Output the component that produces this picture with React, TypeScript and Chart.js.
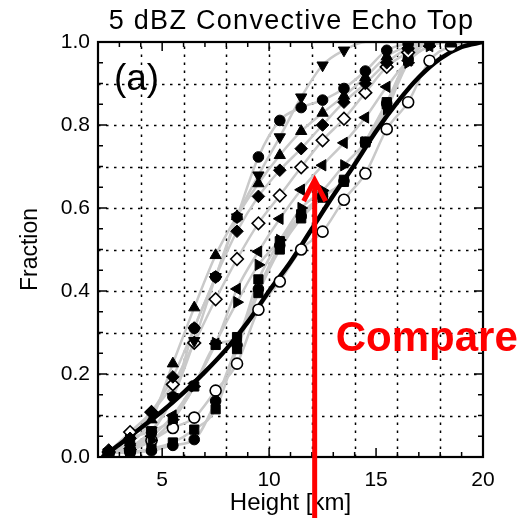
import React, { useEffect, useRef } from 'react';
import { Chart, registerables } from 'chart.js';

Chart.register(...registerables);

// ---------------- data ----------------
const heights = [2.5, 3.5, 4.5, 5.5, 6.5, 7.5, 8.5, 9.5, 10.5, 11.5, 12.5, 13.5, 14.5, 15.5, 16.5, 17.5, 18.5, 19.5];

const downTriFrac = [0.012, 0.025, 0.064, 0.145, 0.28, 0.434, 0.578, 0.679, 0.771, 0.867, 0.944, 0.98, 1, 1, 1, 1, 1, 1];
const circleAFrac = [0.01, 0.02, 0.06, 0.145, 0.31, 0.434, 0.578, 0.723, 0.811, 0.842, 0.86, 0.888, 0.93, 0.98, 0.995, 1, 1, 1];
const upTriFrac = [0.012, 0.035, 0.09, 0.225, 0.36, 0.486, 0.58, 0.659, 0.727, 0.785, 0.829, 0.87, 0.915, 0.965, 0.99, 1, 1, 1];
const diamondFrac = [0.017, 0.045, 0.108, 0.193, 0.311, 0.434, 0.544, 0.628, 0.691, 0.743, 0.8, 0.855, 0.9, 0.95, 0.985, 1, 1, 1];
const openDiamondFrac = [0.012, 0.06, 0.108, 0.175, 0.275, 0.38, 0.477, 0.563, 0.63, 0.698, 0.763, 0.815, 0.878, 0.94, 0.975, 1, 1, 1];
const leftTriFrac = [0.01, 0.02, 0.05, 0.1, 0.177, 0.273, 0.405, 0.495, 0.574, 0.644, 0.703, 0.757, 0.818, 0.892, 0.955, 0.99, 1, 1];
const rightTriFrac = [0.01, 0.018, 0.04, 0.09, 0.17, 0.275, 0.373, 0.463, 0.523, 0.6, 0.642, 0.703, 0.758, 0.838, 0.95, 0.99, 1, 1];
const squareAFrac = [0.01, 0.045, 0.062, 0.092, 0.17, 0.27, 0.289, 0.428, 0.52, 0.585, 0.63, 0.663, 0.758, 0.85, 0.955, 0.997, 0.999, 1];
const squareBFrac = [0.01, 0.012, 0.02, 0.035, 0.066, 0.115, 0.26, 0.395, 0.5, 0.575, 0.625, 0.668, 0.76, 0.855, 0.96, 0.998, 1, 1];
const circleBFrac = [0.01, 0.01, 0.015, 0.028, 0.042, 0.135, 0.27, 0.405, 0.51, 0.58, 0.628, 0.665, 0.758, 0.852, 0.958, 1, 1, 1];
const openCircleFrac = [0.01, 0.015, 0.04, 0.07, 0.095, 0.16, 0.225, 0.355, 0.423, 0.5, 0.543, 0.62, 0.683, 0.79, 0.855, 0.955, 0.99, 1];

const fitHeights = [2.2, 3, 4, 5, 6, 7, 8, 9, 10, 11, 12, 13, 14, 15, 16, 17, 18, 19, 20];
const fitFrac = [0, 0.03, 0.07, 0.11, 0.155, 0.205, 0.26, 0.325, 0.4, 0.47, 0.55, 0.63, 0.705, 0.785, 0.855, 0.915, 0.96, 0.988, 1.0];

const xTickLabels = [5, 10, 15, 20];
const yTickLabels = [0, 0.2, 0.4, 0.6, 0.8, 1.0];
const xGridLines = [4, 6, 8, 10, 12, 14, 16, 18];
const yGridLines = [0.1, 0.2, 0.3, 0.4, 0.5, 0.6, 0.7, 0.8, 0.9];
const xMinorTicks = [2, 3, 4, 5, 6, 7, 8, 9, 10, 11, 12, 13, 14, 15, 16, 17, 18, 19, 20];
const yMinorTicks = [0, 0.05, 0.1, 0.15, 0.2, 0.25, 0.3, 0.35, 0.4, 0.45, 0.5, 0.55, 0.6, 0.65, 0.7, 0.75, 0.8, 0.85, 0.9, 0.95, 1.0];

const titleText = '5 dBZ Convective Echo Top';
const xTitleText = 'Height [km]';
const yTitleText = 'Fraction';
const panelText = '(a)';
const compareText = 'Compare';

// annotation anchors in data units
const panelAnchor = { x: 3.8, y: 0.884 };
const compareAnchor = { x: 17.37, y: 0.255 };
const arrowAnchor = { x: 12.13, y: 0.667 };

const FONT = '"Liberation Sans", Arial, Helvetica, sans-serif';

type Series = { data: number[]; style: string; rotation: number; open: boolean; radius: number };

const series: Series[] = [
  { data: downTriFrac, style: 'triangle', rotation: 180, open: false, radius: 6.5 },
  { data: circleAFrac, style: 'circle', rotation: 0, open: false, radius: 5.3 },
  { data: upTriFrac, style: 'triangle', rotation: 0, open: false, radius: 6.5 },
  { data: diamondFrac, style: 'rectRot', rotation: 0, open: false, radius: 6.3 },
  { data: openDiamondFrac, style: 'rectRot', rotation: 0, open: true, radius: 6.3 },
  { data: leftTriFrac, style: 'triangle', rotation: 270, open: false, radius: 6.5 },
  { data: rightTriFrac, style: 'triangle', rotation: 90, open: false, radius: 6.5 },
  { data: squareAFrac, style: 'rect', rotation: 0, open: false, radius: 6.5 },
  { data: squareBFrac, style: 'rect', rotation: 0, open: false, radius: 6.5 },
  { data: circleBFrac, style: 'circle', rotation: 0, open: false, radius: 5.3 },
  { data: openCircleFrac, style: 'circle', rotation: 0, open: true, radius: 5.5 },
];

const toPoints = (xs: number[], ys: number[]) => xs.map((x, i) => ({ x, y: ys[i] }));

const decorPlugin = {
  id: 'decor',
  beforeDatasetsDraw(chart: any) {
    const { ctx, chartArea: a, scales } = chart;
    const xs = scales.x;
    const ys = scales.y;
    ctx.save();
    ctx.strokeStyle = '#000';
    ctx.lineWidth = 1.5;
    ctx.setLineDash([2.5, 5.5]);
    xGridLines.forEach((v) => {
      const px = Math.round(xs.getPixelForValue(v)) + 0.5;
      ctx.beginPath();
      ctx.moveTo(px, a.bottom);
      ctx.lineTo(px, a.top);
      ctx.stroke();
    });
    yGridLines.forEach((v) => {
      const py = Math.round(ys.getPixelForValue(v)) + 0.5;
      ctx.beginPath();
      ctx.moveTo(a.left, py);
      ctx.lineTo(a.right, py);
      ctx.stroke();
    });
    ctx.restore();
  },
  afterDatasetsDraw(chart: any) {
    const { ctx, chartArea: a, scales } = chart;
    const xs = scales.x;
    const ys = scales.y;
    ctx.save();
    // inside tick marks
    ctx.strokeStyle = '#000';
    ctx.lineWidth = 1.5;
    xMinorTicks.forEach((v) => {
      const len = xTickLabels.includes(v) ? 9 : 5;
      const px = xs.getPixelForValue(v);
      ctx.beginPath();
      ctx.moveTo(px, a.bottom);
      ctx.lineTo(px, a.bottom - len);
      ctx.moveTo(px, a.top);
      ctx.lineTo(px, a.top + len);
      ctx.stroke();
    });
    yMinorTicks.forEach((v) => {
      const major = yTickLabels.some((t) => Math.abs(t - v) < 1e-6);
      const len = major ? 9 : 5;
      const py = ys.getPixelForValue(v);
      ctx.beginPath();
      ctx.moveTo(a.left, py);
      ctx.lineTo(a.left + len, py);
      ctx.moveTo(a.right, py);
      ctx.lineTo(a.right - len, py);
      ctx.stroke();
    });
    // frame
    ctx.lineWidth = 2.2;
    ctx.strokeRect(a.left, a.top, a.right - a.left, a.bottom - a.top);

    // title, centred over the plot area
    ctx.fillStyle = '#000';
    ctx.font = `27px ${FONT}`;
    ctx.textAlign = 'center';
    ctx.textBaseline = 'alphabetic';
    try {
      (ctx as any).letterSpacing = '1.3px';
    } catch (e) {
      /* ignore */
    }
    ctx.fillText(titleText, (a.left + a.right) / 2 + 1, 29);
    try {
      (ctx as any).letterSpacing = '0px';
    } catch (e) {
      /* ignore */
    }

    // panel label
    ctx.font = `37px ${FONT}`;
    ctx.fillText(panelText, xs.getPixelForValue(panelAnchor.x), ys.getPixelForValue(panelAnchor.y));

    // arrow
    const ax = xs.getPixelForValue(arrowAnchor.x);
    const ay = ys.getPixelForValue(arrowAnchor.y);
    ctx.strokeStyle = '#ff0000';
    ctx.lineWidth = 5;
    ctx.beginPath();
    ctx.moveTo(ax, ay + 2);
    ctx.lineTo(ax, chart.height);
    ctx.stroke();
    ctx.lineJoin = 'miter';
    ctx.beginPath();
    ctx.moveTo(ax - 11, ay + 21);
    ctx.lineTo(ax, ay);
    ctx.lineTo(ax + 11, ay + 21);
    ctx.stroke();

    // compare text
    ctx.fillStyle = '#ff0000';
    ctx.font = `bold 42px ${FONT}`;
    ctx.textAlign = 'center';
    ctx.fillText(compareText, xs.getPixelForValue(compareAnchor.x), ys.getPixelForValue(compareAnchor.y));
    ctx.restore();
  },
};

export default function App() {
  const ref = useRef<HTMLCanvasElement>(null);
  useEffect(() => {
    document.body.style.margin = '0';
    const grayLines = series.map((s) => ({
      type: 'scatter' as const,
      data: toPoints(heights, s.data),
      showLine: true,
      borderColor: '#c9c9c9',
      borderWidth: 2.5,
      pointRadius: 0,
      cubicInterpolationMode: 'monotone' as const,
      order: 3,
    }));
    const fitLine = {
      type: 'scatter' as const,
      data: toPoints(fitHeights, fitFrac),
      showLine: true,
      borderColor: '#000',
      borderWidth: 4.5,
      pointRadius: 0,
      cubicInterpolationMode: 'monotone' as const,
      order: 2,
    };
    const markers = series.map((s) => ({
      type: 'scatter' as const,
      data: toPoints(heights, s.data),
      showLine: false,
      pointStyle: s.style,
      pointRotation: s.rotation,
      pointRadius: (c: any) => (c.raw && c.raw.y >= 1 ? 0 : s.radius),
      pointBackgroundColor: s.open ? '#ffffff' : '#000000',
      pointBorderColor: '#000000',
      pointBorderWidth: s.open ? 1.6 : 1,
      order: 1,
    }));

    const chart = new Chart(ref.current as HTMLCanvasElement, {
      type: 'scatter',
      data: { datasets: [...markers, fitLine, ...grayLines] as any },
      options: {
        animation: false,
        responsive: false,
        devicePixelRatio: 1,
        events: [],
        layout: { padding: { top: 42, right: 49, bottom: 0, left: 0 } },
        plugins: {
          legend: { display: false },
          tooltip: { enabled: false },
          title: { display: false },
        },
        scales: {
          x: {
            type: 'linear',
            min: 2,
            max: 20,
            afterBuildTicks: (scale: any) => {
              scale.ticks = xMinorTicks.map((v) => ({ value: v }));
            },
            afterFit: (scale: any) => {
              scale.height = 61;
            },
            ticks: {
              autoSkip: false,
              maxRotation: 0,
              padding: 11,
              color: '#000',
              font: { size: 21, family: FONT },
              callback: (v: any) => (xTickLabels.includes(Number(v)) ? String(v) : ''),
            },
            grid: { display: false, drawTicks: false },
            border: { display: false },
            title: {
              display: true,
              text: xTitleText,
              color: '#000',
              font: { size: 24, family: FONT },
              padding: { top: 0, bottom: 0 },
            },
          },
          y: {
            type: 'linear',
            min: 0,
            max: 1,
            afterBuildTicks: (scale: any) => {
              scale.ticks = yMinorTicks.map((v) => ({ value: v }));
            },
            afterFit: (scale: any) => {
              scale.width = 98;
            },
            ticks: {
              autoSkip: false,
              padding: 8,
              color: '#000',
              font: { size: 21, family: FONT },
              callback: (v: any) => {
                const n = Number(v);
                return yTickLabels.some((t) => Math.abs(t - n) < 1e-6) ? n.toFixed(1) : '';
              },
            },
            grid: { display: false, drawTicks: false },
            border: { display: false },
            title: {
              display: true,
              text: yTitleText,
              color: '#000',
              font: { size: 23, family: FONT },
              padding: { top: 17, bottom: 0 },
            },
          },
        },
      } as any,
      plugins: [decorPlugin],
    });
    return () => chart.destroy();
  }, []);
  return <canvas ref={ref} width={532} height={518} style={{ display: 'block' }} />;
}
